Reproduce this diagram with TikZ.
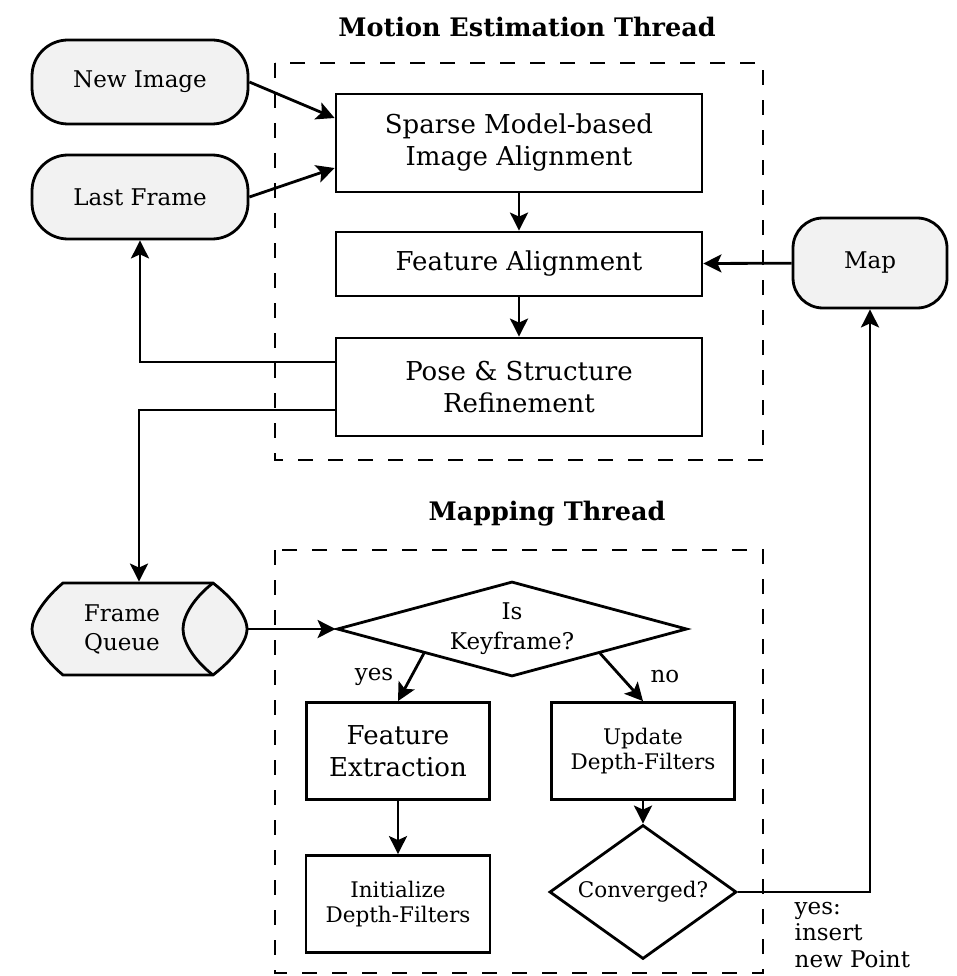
\documentclass[tikz,border=0pt]{standalone}
\usepackage{fontspec}
\setmainfont{DejaVu Serif}
\usetikzlibrary{shapes.geometric,arrows.meta,calc}

\definecolor{termfill}{HTML}{F2F2F2}

\begin{document}
\begin{tikzpicture}[x=1pt,y=-1pt,line width=2.8pt,
  txt/.style={font=\fontsize{23}{30}\selectfont},
  wide/.style={font=\fontsize{26}{32}\selectfont},
  small/.style={font=\fontsize{21.5}{25}\selectfont},
  title/.style={font=\bfseries\fontsize{25.5}{30}\selectfont},
  block/.style={draw,rectangle,align=center,inner sep=0pt},
  term/.style={draw,fill=termfill,rectangle,rounded corners=36pt,align=center,inner sep=0pt},
  decision/.style={draw,diamond,align=center,inner sep=0pt},
  threadbox/.style={line width=2.8pt,dash pattern=on 15pt off 15pt},
  flow/.style={-{Stealth[length=18pt,width=18pt,inset=4pt]}}]
\useasboundingbox (0,0) rectangle (957,976);

% thread frames
\node[title] (mtitle) at (527,27) {Motion Estimation Thread};
\draw[threadbox] (275,63) rectangle (763,460);
\node[title] (ptitle) at (547,514) {Mapping Thread};
\draw[threadbox] (275,550) rectangle (763,973);

% motion estimation
\node[block,wide,minimum width=366pt,minimum height=98pt] (sparse) at (519,143) {Sparse Model-based\\Image Alignment};
\node[block,wide,minimum width=366pt,minimum height=64pt] (featal) at (519,264) {Feature Alignment};
\node[block,wide,minimum width=366pt,minimum height=98pt] (pose) at (519,387) {Pose \& Structure\\Refinement};

\node[term,txt,minimum width=216pt,minimum height=84pt] (newimg) at (140,82) {New Image};
\node[term,txt,minimum width=216pt,minimum height=84pt] (lastfr) at (140,197) {Last Frame};
\node[term,txt,minimum width=154pt,minimum height=90pt,rounded corners=30pt] (map) at (870,263) {Map};

% frame queue drawn as a lying cylinder
\begin{scope}[shift={(139,629)}]
  \draw[fill=termfill] (-76,-46) -- (74,-46) .. controls (92,-32) and (108,-14) .. (108,0)
    .. controls (108,14) and (92,32) .. (74,46) -- (-76,46)
    .. controls (-93,32) and (-107,12) .. (-107,0)
    .. controls (-107,-12) and (-93,-32) .. (-76,-46) -- cycle;
  \draw (74,-46) .. controls (56,-32) and (44,-14) .. (44,0) .. controls (44,14) and (56,32) .. (74,46);
\end{scope}
\node[minimum width=215pt,minimum height=92pt,inner sep=0pt] (fq) at (139,629) {};
\node[txt,align=center,font=\fontsize{23}{29}\selectfont] (fqtext) at (122,629) {Frame\\Queue};

% mapping
\node[decision,txt,aspect=3.68,minimum width=350pt,minimum height=95pt] (kf) at (512,629) {Is\\Keyframe?};
\node[block,wide,minimum width=183pt,minimum height=97pt] (featex) at (398,751) {Feature\\Extraction};
\node[block,small,minimum width=183pt,minimum height=97pt] (update) at (643,751) {Update\\Depth-Filters};
\node[block,small,minimum width=184pt,minimum height=97pt] (init) at (398,904) {Initialize\\Depth-Filters};
\node[decision,small,aspect=1.4,minimum width=187pt,minimum height=134pt] (conv) at (643,892) {Converged?};

\node[txt] (yes) at (374,677) {yes};
\node[txt] (no) at (665,677) {no};
\node[anchor=north west,align=left,font=\fontsize{23}{26.5}\selectfont] (insert) at (790,897) {yes:\\insert\\new Point};

% connections
\draw[flow] (newimg.east) -- ($(sparse.west)+(0,-25)$);
\draw[flow] (lastfr.east) -- ($(sparse.west)+(0,25)$);
\draw[flow] (sparse) -- (featal);
\draw[flow] (featal) -- (pose);
\draw[flow] (map) -- (featal);
\draw[flow] ($(pose.west)+(0,-25)$) -| (lastfr.south);
\draw[flow] ($(pose.west)+(0,23)$) -| (fq.north);
\draw[flow] (fq.east) -- (kf.west);
\draw[flow] (kf.south west) -- (featex.north);
\draw[flow] (kf.south east) -- (update.north);
\draw[flow] (featex) -- (init);
\draw[flow] (update) -- (conv);
\draw[flow] (conv.east) -| (map.south);
\end{tikzpicture}
\end{document}
